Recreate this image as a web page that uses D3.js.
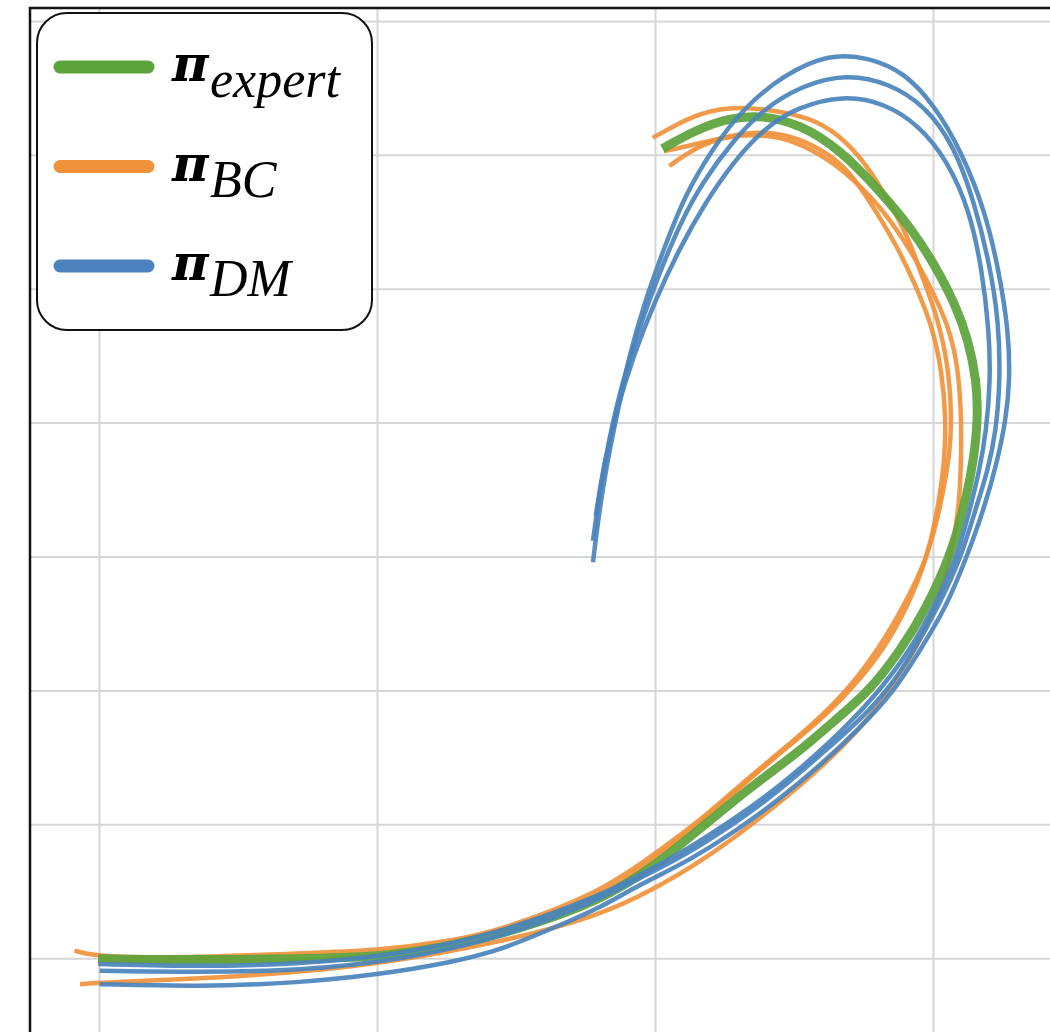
<!DOCTYPE html>
<html>
<head>
<meta charset="utf-8">
<script src="https://cdn.jsdelivr.net/npm/d3@7"></script>
<style>
    body { margin: 0; background: #fff; }
</style>
</head>
<body>
<svg id="chart" width="1050" height="1032"></svg>
<script>
// grid ticks (no labels shown in the figure)
var xTicks = [0, 0.2, 0.4, 0.6];
var yTicks = [0, 0.1, 0.2, 0.3, 0.4, 0.5, 0.6, 0.7];

// expert trajectory
var expert = [[-0.001,0],[0.072,-0.001],[0.144,0],[0.2,0.001],[0.252,0.009],[0.302,0.022],[0.36,0.043],[0.399,0.069],[0.432,0.097],[0.468,0.128],[0.504,0.155],[0.529,0.178],[0.554,0.2],[0.576,0.23],[0.594,0.26],[0.612,0.3],[0.622,0.337],[0.629,0.372],[0.632,0.404],[0.631,0.432],[0.625,0.462],[0.616,0.488],[0.601,0.518],[0.585,0.544],[0.561,0.574],[0.532,0.605],[0.504,0.623],[0.477,0.63],[0.453,0.628],[0.429,0.619],[0.405,0.605]];

// behaviour cloning rollouts
var bc1 = [[-0.018,0.006],[-0.001,0.001],[0.072,0.001],[0.144,0.004],[0.2,0.006],[0.252,0.013],[0.288,0.021],[0.36,0.049],[0.399,0.078],[0.432,0.103],[0.46,0.129],[0.489,0.154],[0.511,0.173],[0.538,0.2],[0.561,0.232],[0.579,0.264],[0.596,0.3],[0.606,0.342],[0.612,0.379],[0.613,0.404],[0.611,0.441],[0.603,0.479],[0.593,0.506],[0.583,0.536],[0.568,0.566],[0.55,0.596],[0.532,0.615],[0.513,0.628],[0.477,0.635],[0.453,0.636],[0.429,0.631],[0.398,0.613]];
var bc2 = [[-0.001,-0.001],[0.072,-0.002],[0.144,-0.001],[0.2,0.001],[0.288,0.019],[0.36,0.045],[0.399,0.075],[0.432,0.101],[0.464,0.131],[0.496,0.159],[0.522,0.181],[0.547,0.208],[0.568,0.237],[0.585,0.271],[0.597,0.305],[0.604,0.342],[0.608,0.372],[0.609,0.404],[0.606,0.439],[0.599,0.473],[0.587,0.503],[0.574,0.532],[0.554,0.566],[0.54,0.587],[0.525,0.601],[0.501,0.614],[0.477,0.618],[0.453,0.615],[0.429,0.606],[0.41,0.592]];
var bc3 = [[-0.014,-0.019],[0,-0.018],[0.072,-0.015],[0.144,-0.01],[0.2,-0.004],[0.288,0.012],[0.36,0.032],[0.399,0.052],[0.432,0.072],[0.468,0.099],[0.504,0.129],[0.536,0.159],[0.561,0.189],[0.583,0.223],[0.601,0.26],[0.613,0.3],[0.619,0.342],[0.62,0.379],[0.62,0.404],[0.618,0.439],[0.612,0.469],[0.601,0.495],[0.588,0.521],[0.57,0.551],[0.548,0.577],[0.525,0.597],[0.5,0.611],[0.475,0.616],[0.45,0.614],[0.424,0.607],[0.406,0.603]];

// DM rollouts
var dm1 = [[0.355,0.296],[0.359,0.33],[0.365,0.37],[0.373,0.41],[0.381,0.45],[0.392,0.49],[0.406,0.53],[0.421,0.57],[0.441,0.605],[0.463,0.635],[0.492,0.66],[0.525,0.676],[0.554,0.673],[0.579,0.662],[0.601,0.637],[0.62,0.603],[0.637,0.559],[0.647,0.514],[0.654,0.469],[0.655,0.432],[0.652,0.402],[0.646,0.372],[0.637,0.338],[0.624,0.3],[0.608,0.26],[0.59,0.23],[0.572,0.2],[0.547,0.172],[0.518,0.144],[0.489,0.119],[0.46,0.097],[0.424,0.073],[0.388,0.055],[0.36,0.038],[0.331,0.025],[0.288,0.006],[0.252,-0.003],[0.2,-0.012],[0.144,-0.018],[0.072,-0.021],[0,-0.019]];
var dm2 = [[0.355,0.312],[0.36,0.35],[0.367,0.39],[0.376,0.43],[0.388,0.47],[0.402,0.51],[0.418,0.55],[0.434,0.58],[0.455,0.61],[0.478,0.635],[0.505,0.652],[0.537,0.661],[0.568,0.654],[0.594,0.637],[0.615,0.607],[0.629,0.566],[0.64,0.521],[0.647,0.476],[0.648,0.432],[0.645,0.394],[0.639,0.364],[0.63,0.335],[0.62,0.3],[0.604,0.264],[0.586,0.23],[0.567,0.2],[0.543,0.174],[0.514,0.148],[0.486,0.123],[0.457,0.101],[0.421,0.077],[0.388,0.06],[0.36,0.044],[0.288,0.015],[0.216,-0.001],[0.144,-0.009],[0.072,-0.01],[0,-0.009]];
var dm3 = [[0.357,0.331],[0.363,0.37],[0.372,0.41],[0.384,0.45],[0.399,0.49],[0.417,0.53],[0.436,0.565],[0.456,0.595],[0.478,0.62],[0.502,0.636],[0.535,0.645],[0.565,0.639],[0.59,0.622],[0.61,0.596],[0.626,0.559],[0.635,0.514],[0.64,0.469],[0.641,0.432],[0.638,0.394],[0.633,0.364],[0.626,0.335],[0.617,0.3],[0.601,0.264],[0.583,0.23],[0.561,0.2],[0.538,0.174],[0.511,0.148],[0.482,0.123],[0.453,0.102],[0.417,0.078],[0.388,0.062],[0.36,0.047],[0.288,0.019],[0.216,0.003],[0.144,-0.004],[0.072,-0.006],[-0.001,-0.004]];

var seriesNames = ["expert", "BC", "DM"];
var seriesColors = ["#5ba33b", "#f0923b", "#4a83bd"];

var svg = d3.select("#chart");
var margin = {left: 30, top: 8};

var x = d3.scaleLinear()
    .domain([-0.05, 0.72])
    .range([margin.left, margin.left + 0.77 * 1390]);
var y = d3.scaleLinear()
    .domain([-0.06, 0.71])
    .range([margin.top + 0.77 * 1339, margin.top]);

// grid
svg.append("g")
    .selectAll("line")
    .data(xTicks)
    .enter().append("line")
    .attr("x1", function(d) { return x(d); })
    .attr("x2", function(d) { return x(d); })
    .attr("y1", y.range()[0])
    .attr("y2", y.range()[1])
    .attr("stroke", "#d6d6d6")
    .attr("stroke-width", 2);
svg.append("g")
    .selectAll("line")
    .data(yTicks)
    .enter().append("line")
    .attr("x1", x.range()[0])
    .attr("x2", x.range()[1])
    .attr("y1", function(d) { return y(d); })
    .attr("y2", function(d) { return y(d); })
    .attr("stroke", "#d6d6d6")
    .attr("stroke-width", 2);

var line = d3.line()
    .x(function(d) { return x(d[0]); })
    .y(function(d) { return y(d[1]); })
    .curve(d3.curveBasis);

function drawRuns(runs, color, width) {
    svg.append("g")
        .selectAll("path")
        .data(runs)
        .enter().append("path")
        .attr("d", line)
        .attr("fill", "none")
        .attr("stroke", color)
        .attr("stroke-width", width)
        .attr("stroke-linecap", "butt")
        .attr("stroke-linejoin", "round")
        .attr("stroke-opacity", 0.92);
}

drawRuns([bc1, bc2, bc3], seriesColors[1], 4.5);
drawRuns([expert], seriesColors[0], 9);
drawRuns([dm3, dm2, dm1], seriesColors[2], 4.5);

// frame (only left and top edges fall inside the picture)
svg.append("rect")
    .attr("x", x.range()[0])
    .attr("y", y.range()[1])
    .attr("width", x.range()[1] - x.range()[0])
    .attr("height", y.range()[0] - y.range()[1])
    .attr("fill", "none")
    .attr("stroke", "#111")
    .attr("stroke-width", 2.5);

// legend
var legend = svg.append("g");
legend.append("rect")
    .attr("x", 37)
    .attr("y", 13)
    .attr("width", 335)
    .attr("height", 317)
    .attr("rx", 30)
    .attr("fill", "#fff")
    .attr("stroke", "#111")
    .attr("stroke-width", 2);

var item = legend.selectAll(".item")
    .data(seriesNames)
    .enter().append("g")
    .attr("transform", function(d, i) { return "translate(0," + (67 + i * 99.5) + ")"; });

item.append("line")
    .attr("x1", 60)
    .attr("x2", 148)
    .attr("stroke", function(d, i) { return seriesColors[i]; })
    .attr("stroke-width", 13)
    .attr("stroke-linecap", "round");

item.append("text")
    .attr("x", 172)
    .attr("y", 14)
    .attr("font-family", "'DejaVu Serif', serif")
    .attr("font-style", "italic")
    .attr("font-weight", "bold")
    .attr("font-size", 50)
    .attr("fill", "#000")
    .text("π");

item.append("text")
    .attr("x", 210)
    .attr("y", 30)
    .attr("font-family", "'Liberation Serif', serif")
    .attr("font-style", "italic")
    .attr("font-size", 52)
    .attr("fill", "#000")
    .text(function(d) { return d; });
</script>
</body>
</html>
